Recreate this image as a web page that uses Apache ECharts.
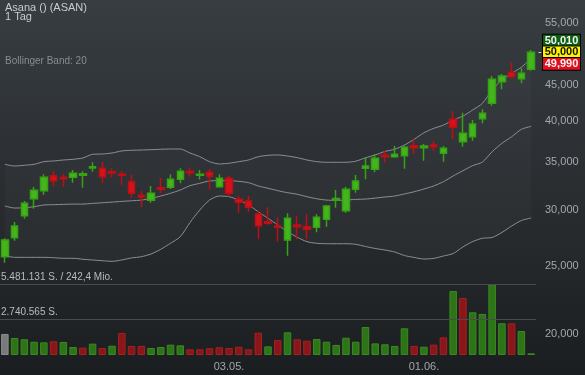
<!DOCTYPE html>
<html><head><meta charset="utf-8">
<script src="https://cdn.jsdelivr.net/npm/echarts@6/dist/echarts.min.js"></script>
<style>html,body{margin:0;padding:0;background:#2b3033}#c{width:585px;height:375px}</style>
</head><body><div id="c"></div>
<script>
const dates = ['30.03.','31.03.','01.04.','05.04.','06.04.','07.04.','08.04.','09.04.','12.04.','13.04.',
  '14.04.','15.04.','16.04.','19.04.','20.04.','21.04.','22.04.','23.04.','26.04.','27.04.',
  '28.04.','29.04.','30.04.','03.05.','04.05.','05.05.','06.05.','07.05.','10.05.','11.05.',
  '12.05.','13.05.','14.05.','17.05.','18.05.','19.05.','20.05.','21.05.','24.05.','25.05.',
  '26.05.','27.05.','28.05.','01.06.','02.06.','03.06.','04.06.','07.06.','08.06.','09.06.',
  '10.06.','11.06.','14.06.','15.06.','16.06.'];
const open = [25.74,27.38,29.41,31.07,31.90,33.49,33.32,33.32,33.53,34.34,34.30,33.92,33.64,32.84,31.42,30.91,32.21,32.25,33.10,33.95,33.53,33.86,32.32,33.21,31.01,30.84,29.57,28.84,28.44,27.18,28.54,28.38,28.32,29.07,30.94,29.89,32.04,34.30,34.19,35.78,35.62,35.74,36.92,36.68,37.00,36.01,40.21,37.40,38.00,40.29,42.36,45.44,46.85,45.88,47.31];
const close = [27.18,28.44,30.61,31.94,33.32,32.95,33.16,33.75,33.71,34.48,33.38,33.78,33.53,31.63,31.25,31.63,32.04,33.10,33.97,33.78,33.64,33.42,33.21,31.63,30.71,30.22,28.47,28.69,28.32,29.16,28.38,28.14,29.26,30.35,31.11,32.04,32.92,34.56,35.44,35.62,35.90,36.73,36.68,36.88,36.80,36.61,39.18,38.43,39.60,41.00,45.79,46.29,46.18,46.70,50.00];
const high = [27.33,28.81,30.84,32.28,33.64,33.97,33.67,34.11,33.97,34.98,35.01,34.30,33.97,33.64,31.86,32.39,33.24,33.64,34.30,34.42,34.11,34.22,33.64,33.46,31.35,31.35,29.86,30.22,29.26,29.64,29.38,29.57,29.54,30.45,31.97,32.32,33.57,35.55,35.93,36.35,36.88,36.88,37.69,37.12,37.48,36.88,41.31,41.08,40.12,41.54,46.29,46.59,48.39,47.46,50.36];
const low = [25.25,27.12,29.12,30.08,31.48,32.32,32.28,32.74,32.21,33.92,32.67,33.27,32.53,31.18,30.22,30.67,31.63,32.07,32.67,33.38,33.08,32.02,32.21,31.28,29.70,29.79,27.24,28.56,27.03,25.83,27.24,27.24,27.87,28.38,30.18,29.70,31.69,33.10,33.86,34.93,35.51,34.26,35.90,35.16,36.29,35.05,37.72,36.80,37.52,39.69,42.03,44.33,45.94,45.21,47.09];
const volume = [1630000,1320000,1220000,1030000,980000,1060000,1010000,620000,570000,880000,540000,720000,1710000,700000,700000,540000,620000,800000,750000,440000,440000,520000,600000,540000,640000,440000,1730000,670000,1160000,1760000,1220000,1110000,1240000,1030000,780000,1340000,1030000,2170000,900000,830000,700000,2070000,700000,640000,800000,1370000,4960000,4420000,3310000,3180000,5481131,2460000,2460000,1860000,130000];
const bbUpper = [34.75,34.56,34.64,34.75,35.05,35.13,35.24,35.32,35.47,35.90,35.93,36.05,36.29,36.37,36.40,36.44,36.49,36.52,36.52,36.05,35.62,35.05,34.79,34.87,35.05,35.24,35.62,35.78,35.82,35.70,35.51,35.24,35.05,34.98,34.98,34.98,35.10,35.49,35.82,36.23,36.49,37.00,37.69,38.50,39.05,39.47,40.12,40.64,41.45,42.36,44.23,45.69,46.70,47.62,49.02];
const bbMiddle = [30.35,30.15,30.18,30.28,30.45,30.48,30.51,30.54,30.54,30.61,30.67,30.74,30.81,30.87,30.94,31.11,31.35,31.63,31.97,32.42,32.67,32.92,32.95,32.95,32.88,32.74,32.39,32.15,31.90,31.69,31.53,31.28,31.07,30.94,30.91,30.94,31.01,31.04,31.14,31.25,31.35,31.56,31.79,32.07,32.39,32.84,33.46,34.03,34.60,35.00,36.20,37.20,38.00,38.93,39.31];
const bbLower = [25.83,25.69,25.69,25.69,25.69,25.66,25.61,25.61,25.53,25.47,25.41,25.36,25.47,25.64,25.74,25.97,26.37,26.89,27.47,28.77,29.95,30.94,31.35,31.28,30.94,30.45,29.79,29.16,28.54,27.92,27.42,27.03,26.89,26.85,26.85,26.85,26.80,26.61,26.44,26.31,26.14,25.84,25.68,25.55,25.60,25.80,26.01,26.57,27.04,27.33,27.40,27.85,28.44,28.95,29.19];
const priceTicks = [20,25,30,35,40,45,50,55];
const dateLabels = ['03.05.','01.06.'];
const quoteAsk = 50.01, quoteLast = 50.00, quoteBid = 49.99;
const volMax = 5481131;
const turnoverLabel = '242,4 Mio.';

const fmtPrice = v => v.toFixed(3).replace('.', ',');
const fmtInt = n => String(Math.floor(n)).replace(/\B(?=(\d{3})+(?!\d))/g, '.');

const candles = dates.map((d, i) => [open[i], close[i], low[i], high[i]]);
const bandDiff = bbUpper.map((u, i) => u - bbLower[i]);
const volData = volume.map((v, i) => {
  let c = '#7a7a7a', b = '#8c8c8c';
  if (i > 0) {
    if (close[i] >= close[i - 1]) { c = '#2d7417'; b = '#3b8a21'; }
    else { c = '#8a1619'; b = '#a32023'; }
  }
  return { value: v, itemStyle: { color: c, borderColor: b, borderWidth: 1 } };
});

const GW = 536;
const chart = echarts.init(document.getElementById('c'), null, { renderer: 'canvas' });
const lineBase = { type: 'line', symbol: 'none', smooth: 0.25, silent: true, xAxisIndex: 0, yAxisIndex: 0 };
const boxStyle = { borderColor: '#000', borderWidth: 1, width: 37, height: 11.6, lineHeight: 11.6, align: 'center', fontSize: 11, fontWeight: 'bold' };
chart.setOption({
  animation: false,
  backgroundColor: new echarts.graphic.LinearGradient(0, 0, 0, 1, [
    { offset: 0, color: '#383d41' }, { offset: 1, color: '#1b1e21' }]),
  textStyle: { fontFamily: 'Liberation Sans, Arial, sans-serif' },
  title: [
    { text: 'Asana () (ASAN)\n1 Tag', left: 5, top: 3, padding: 0,
      textStyle: { fontSize: 11, fontWeight: 'normal', color: '#c9cccf', lineHeight: 9 } },
    { text: 'Bollinger Band: 20', left: 5, top: 56, padding: 0,
      textStyle: { fontSize: 10, fontWeight: 'normal', color: '#878d92' } }
  ],
  grid: [
    { left: 0, top: 0, width: GW, height: 355 },
    { left: 0, top: 284.3, width: GW, height: 70.7 }
  ],
  xAxis: [
    { type: 'category', data: dates, gridIndex: 0, show: false },
    { type: 'category', data: dates, gridIndex: 1,
      axisLine: { show: false }, axisTick: { show: false }, splitLine: { show: false },
      axisLabel: { interval: (i, v) => dateLabels.includes(v), color: '#a2a6aa', fontSize: 11, margin: 6 } }
  ],
  yAxis: [
    { type: 'log', logBase: 10, gridIndex: 0, position: 'right', min: 18.71, max: 59.24,
      axisLine: { show: false }, axisTick: { show: false }, splitLine: { show: false },
      axisLabel: { customValues: priceTicks, formatter: fmtPrice, color: '#a4a8ac', fontSize: 11, margin: 9 } },
    { type: 'value', gridIndex: 1, min: 0, max: volMax, show: false }
  ],
  series: [
    Object.assign({}, lineBase, { data: bbLower, stack: 'band', lineStyle: { opacity: 0 }, z: 1 }),
    Object.assign({}, lineBase, { data: bandDiff, stack: 'band', lineStyle: { opacity: 0 },
      areaStyle: { color: 'rgba(255,255,255,0.035)' }, z: 1 }),
    Object.assign({}, lineBase, { data: bbUpper, lineStyle: { color: '#8b9094', width: 1 }, z: 2 }),
    Object.assign({}, lineBase, { data: bbMiddle, lineStyle: { color: '#8b9094', width: 1 }, z: 2 }),
    Object.assign({}, lineBase, { data: bbLower, lineStyle: { color: '#8b9094', width: 1 }, z: 2 }),
    {
      type: 'candlestick', xAxisIndex: 0, yAxisIndex: 0, data: candles, barWidth: 7, z: 3,
      itemStyle: { color: '#44b51c', color0: '#d4121a', borderColor: '#35a313', borderColor0: '#bd0f16', borderWidth: 1.5 },
      markLine: {
        silent: true, symbol: 'none', animation: false,
        lineStyle: { color: 'rgba(0,0,0,0)', width: 1, type: 'solid' },
        data: [
          { yAxis: quoteLast, label: { show: true, position: 'end', distance: 2, formatter: '-', color: '#e6e6e6', fontSize: 11, opacity: 1 } },
          { yAxis: quoteLast, label: {
              show: true, position: 'end', distance: 7, opacity: 1,
              formatter: '{g|' + fmtPrice(quoteAsk) + '}\n{y|' + fmtPrice(quoteLast) + '}\n{r|' + fmtPrice(quoteBid) + '}',
              rich: {
                g: Object.assign({ backgroundColor: '#0c5e10', color: '#f2f2f2' }, boxStyle),
                y: Object.assign({ backgroundColor: '#fff200', color: '#111111' }, boxStyle),
                r: Object.assign({ backgroundColor: '#e0101e', color: '#f2f2f2' }, boxStyle)
              }
          } }
        ]
      }
    },
    {
      type: 'bar', xAxisIndex: 1, yAxisIndex: 1, data: volData, barWidth: 7.5, z: 3,
      markLine: {
        silent: true, symbol: 'none', animation: false,
        lineStyle: { color: '#474c50', width: 1, type: 'solid' },
        label: { show: true, position: 'insideStartTop', distance: [1, 2], color: '#b9bbbd', fontSize: 10 },
        data: [
          { yAxis: volMax, label: { formatter: fmtInt(volMax) + ' S. / ' + turnoverLabel } },
          { yAxis: volMax / 2, label: { formatter: fmtInt(volMax / 2) + ' S.' } }
        ]
      }
    }
  ]
});
</script></body></html>
